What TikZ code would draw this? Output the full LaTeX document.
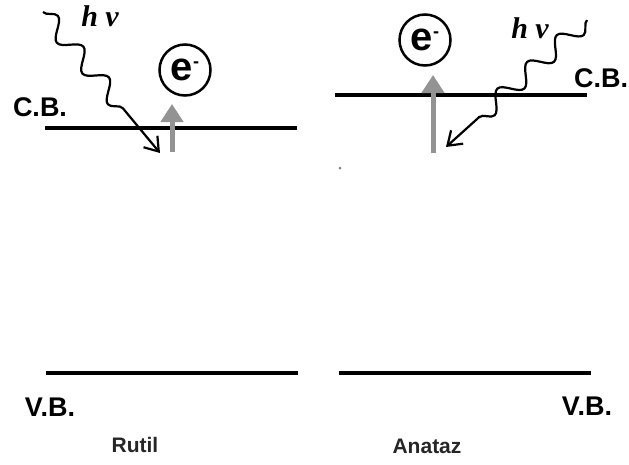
\documentclass[tikz,border=0pt]{standalone}
\usepackage{fontspec}
\setmainfont{Liberation Sans}
\newfontfamily\photonfont{Liberation Serif}
\usetikzlibrary{arrows.meta}
\usetikzlibrary{decorations.pathmorphing}

\begin{document}
\begin{tikzpicture}[x=1pt, y=-1pt,
        band/.style={line width=4pt},
        lbl/.style={font=\fontsize{27}{27}\selectfont\bfseries, inner sep=0pt},
        phase/.style={font=\fontsize{21}{21}\selectfont\bfseries, text=black!85, inner sep=0pt},
        elec/.style={circle, draw, line width=2.5pt, minimum size=51pt, inner sep=0pt, font=\fontsize{40}{40}\selectfont\bfseries},
        hnu/.style={font=\fontsize{30}{30}\selectfont\photonfont\bfseries\itshape, inner sep=0pt},
        photon/.style={line width=2.2pt, -{Straight Barb[length=13pt,width=18pt,line width=2.2pt]}, decorate,
            decoration={snake, segment length=40pt, amplitude=9pt, post length=40pt}},
        excite/.style={line width=5pt, draw=gray!85, -{Triangle[length=18pt,width=22pt]}}]
    \useasboundingbox (0,0) rectangle (629,464);

    % band edges
    \coordinate (cbL1) at (45,128);  \coordinate (cbL2) at (297,128);
    \coordinate (vbL1) at (46,373);  \coordinate (vbL2) at (298,373);
    \coordinate (cbR1) at (335,95);  \coordinate (cbR2) at (587,95);
    \coordinate (vbR1) at (339,373); \coordinate (vbR2) at (591,373);
    \draw[band] (cbL1) -- (cbL2);
    \draw[band] (vbL1) -- (vbL2);
    \draw[band] (cbR1) -- (cbR2);
    \draw[band] (vbR1) -- (vbR2);

    % labels
    \node[lbl] (cbL) at (40,107) {C.B.};
    \node[lbl] (cbR) at (601,78) {C.B.};
    \node[lbl] (vbL) at (50,407) {V.B.};
    \node[lbl] (vbR) at (587,406) {V.B.};
    \node[phase] (rutil) at (135,445) {Rutil};
    \node[phase] (anataz) at (427,446) {Anataz};

    % electrons
    \node[elec] (eL) at (185,70) {e\raisebox{13pt}{\fontsize{18}{18}\selectfont -}};
    \node[elec] (eR) at (425,40) {e\raisebox{13pt}{\fontsize{18}{18}\selectfont -}};

    % photons
    \node[hnu] (hvL) at (100,16) {h ν};
    \node[hnu] (hvR) at (530,28) {h ν};
    \coordinate (phL0) at (43,12);  \coordinate (phL1) at (160,153);
    \coordinate (phR0) at (587,20); \coordinate (phR1) at (446,147);
    \draw[photon] (phL0) -- (phL1);
    \draw[photon] (phR0) -- (phR1);

    % excitation
    \coordinate (upL0) at (172,152); \coordinate (upL1) at (172,104);
    \coordinate (upR0) at (433,153); \coordinate (upR1) at (433,75);
    \draw[excite] (upL0) -- (upL1);
    \draw[excite] (upR0) -- (upR1);

    \fill[gray] (340,168) circle (1.5pt);
\end{tikzpicture}
\end{document}
